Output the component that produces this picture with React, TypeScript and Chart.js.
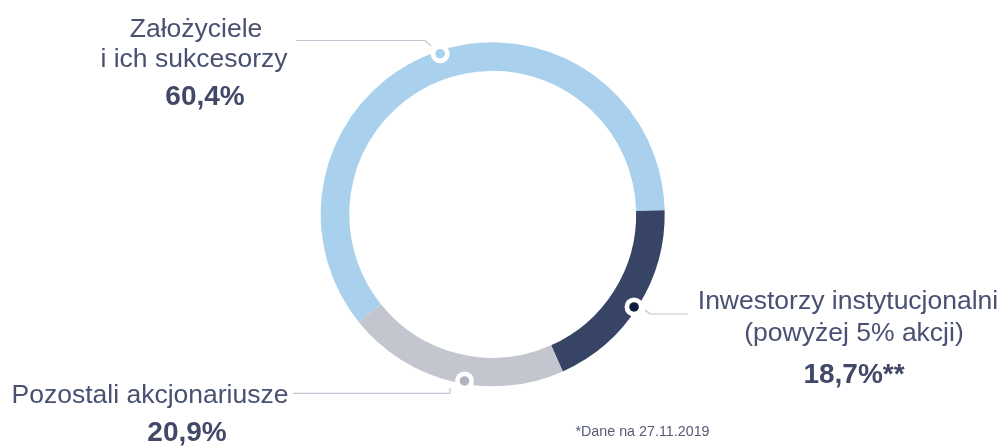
import React, { useEffect, useRef } from "react";
import { Chart, registerables } from "chart.js";

Chart.register(...registerables);

const categories = [
  "Założyciele i ich sukcesorzy",
  "Inwestorzy instytucjonalni (powyżej 5% akcji)",
  "Pozostali akcjonariusze",
];
const shares = [60.4, 18.7, 20.9];
const valueLabels = ["60,4%", "18,7%**", "20,9%"];
const nameLines = [
  ["Założyciele", "i ich sukcesorzy"],
  ["Inwestorzy instytucjonalni", "(powyżej 5% akcji)"],
  ["Pozostali akcjonariusze"],
];
const footnote = "*Dane na 27.11.2019";

const segmentColors = ["#a9d1ee", "#374466", "#c3c5cf"];
const dotColors = ["#a9d1ee", "#101c42", "#b1b2be"];
const TEXT = "#4a5072";
const BOLD = "#424968";
const FONT = '"Liberation Sans", Arial, sans-serif';

// label layout: [lines...] each {x center, baseline y}
const nameLayout = [
  [{ x: 196, y: 36.5 }, { x: 194, y: 67 }],
  [{ x: 848, y: 308.5 }, { x: 854, y: 341 }],
  [{ x: 150, y: 403 }],
];
const valueLayout = [
  { x: 205, y: 105 },
  { x: 854, y: 383 },
  { x: 187, y: 441 },
];
const leaderPaths = [
  [[431, 46], [425, 40.5], [296, 40.5]],
  [[645, 310], [650, 314], [688, 314]],
  [[450, 388], [450, 393.3], [293, 393.3]],
];
const markerFrac = [0.509, 0.514, 0.447];

const labelPlugin = {
  id: "labelPlugin",
  afterDraw(chart: any) {
    const ctx = chart.ctx;
    const meta = chart.getDatasetMeta(0);
    ctx.save();
    // leader lines
    ctx.strokeStyle = "#c3c6d2";
    ctx.lineWidth = 1.2;
    leaderPaths.forEach((p) => {
      ctx.beginPath();
      ctx.moveTo(p[0][0], p[0][1]);
      for (let i = 1; i < p.length; i++) ctx.lineTo(p[i][0], p[i][1]);
      ctx.stroke();
    });
    // markers
    meta.data.forEach((arc: any, i: number) => {
      const a = arc.startAngle + (arc.endAngle - arc.startAngle) * markerFrac[i];
      const r = arc.outerRadius - 3;
      const x = arc.x + Math.cos(a) * r;
      const y = arc.y + Math.sin(a) * r;
      ctx.beginPath();
      ctx.fillStyle = "#ffffff";
      ctx.arc(x, y, 9.5, 0, Math.PI * 2);
      ctx.fill();
      ctx.beginPath();
      ctx.fillStyle = dotColors[i];
      ctx.arc(x, y, 4.8, 0, Math.PI * 2);
      ctx.fill();
    });
    // texts
    ctx.textAlign = "center";
    ctx.textBaseline = "alphabetic";
    nameLines.forEach((lines, i) => {
      ctx.font = `26.5px ${FONT}`;
      ctx.fillStyle = TEXT;
      lines.forEach((t, j) => {
        const pos = nameLayout[i][j];
        ctx.fillText(t, pos.x, pos.y);
      });
      ctx.font = `bold 28px ${FONT}`;
      ctx.fillStyle = BOLD;
      ctx.fillText(valueLabels[i], valueLayout[i].x, valueLayout[i].y);
    });
    ctx.font = `14.3px ${FONT}`;
    ctx.fillStyle = "#565b76";
    ctx.fillText(footnote, 642.5, 436);
    ctx.restore();
  },
};

export default function App() {
  const ref = useRef<HTMLCanvasElement>(null);
  useEffect(() => {
    document.body.style.margin = "0";
    const chart = new Chart(ref.current as HTMLCanvasElement, {
      type: "doughnut",
      data: {
        labels: categories,
        datasets: [
          {
            data: shares,
            backgroundColor: segmentColors,
            borderWidth: 0,
          },
        ],
      },
      options: {
        animation: false,
        responsive: false,
        rotation: -128.8,
        cutout: "83.4%",
        layout: {
          padding: { left: 320.7, right: 340.3, top: 42.3, bottom: 59.7 },
        },
        plugins: {
          legend: { display: false },
          tooltip: { enabled: false },
        },
      },
      plugins: [labelPlugin],
    });
    return () => chart.destroy();
  }, []);
  return (
    <div style={{ width: 1005, height: 446, background: "#ffffff" }}>
      <canvas ref={ref} width={1005} height={446} style={{ display: "block" }} />
    </div>
  );
}
